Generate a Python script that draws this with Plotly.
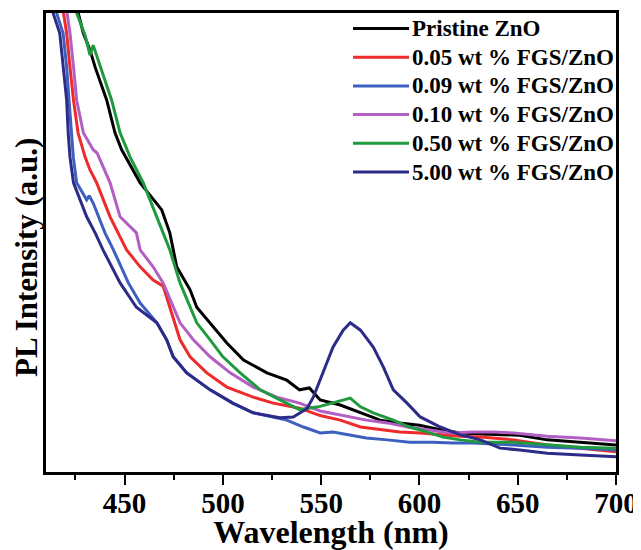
import plotly.graph_objects as go

FONT = "Liberation Serif"

series_names = ["Pristine ZnO", "0.05 wt % FGS/ZnO", "0.09 wt % FGS/ZnO",
                "0.10 wt % FGS/ZnO", "0.50 wt % FGS/ZnO", "5.00 wt % FGS/ZnO"]
series_colors = ["#000000", "#ee2a2a", "#3d5fbf", "#b35ec2", "#1f9a3e", "#2c2c88"]

# Pristine ZnO
pristine_x = [424, 426.3, 429, 432.4, 435, 440.9, 445.1, 448.5, 457.9, 468.9, 473, 476.5, 483.3,
              486.7, 493.5, 502, 510.5, 522.4, 532.5, 539, 544, 549.5, 559.7, 569.9, 580, 590,
              600, 610.6, 620.8, 631, 651, 665, 682, 700]
pristine_y = [104, 100, 95.6, 91.9, 88.2, 81.0, 73.9, 70.2, 63.0, 57.1, 52.1, 44.7, 39.7,
              35.9, 32.5, 28.1, 24.4, 21.6, 20.0, 17.9, 18.3, 15.7, 14.6, 12.9, 11.3, 10.7,
              10.2, 9.2, 8.5, 8.3, 8.0, 7.0, 6.5, 5.9]

# 0.05 wt %
w005_x = [416, 418.7, 420.5, 422.2, 424, 426.3, 429.9, 432.4, 435.8, 442.6, 451, 457.9, 464.5,
          469.6, 473, 475.7, 478.2, 483.3, 491.8, 502, 515.4, 525.6, 539, 549.5, 559.7, 570,
          580, 590, 600.4, 610.6, 620.8, 631, 648, 665, 682, 700]
w005_y = [108, 100, 95.6, 88.2, 81.0, 73.9, 68.6, 65.8, 63.0, 55.6, 48.4, 44.7, 41.8,
          40.5, 35.9, 32.5, 28.8, 25.1, 21.6, 18.5, 16.3, 15.0, 13.9, 12.3, 11.3, 9.8,
          9.2, 8.7, 8.5, 8.1, 7.8, 7.6, 7.0, 5.9, 5.2, 4.4]

# 0.09 wt %
w009_x = [413, 415.4, 418.7, 420.5, 421.7, 423, 423.9, 425.6, 430.7, 432, 434, 440, 444.3,
          451.9, 457.9, 466.4, 471.4, 474.7, 481.6, 493.5, 505, 515.4, 532.5, 541, 549.5,
          556, 563, 573, 583.6, 595, 607, 617, 627, 648, 665, 682, 700]
w009_y = [108, 100, 95.6, 88.2, 81.0, 73.9, 68.6, 63.0, 59.3, 60.2, 58.6, 52.1, 48.4,
          41.2, 36.8, 32.5, 28.8, 25.1, 21.6, 17.9, 15.0, 12.9, 11.3, 9.8, 8.5,
          8.7, 8.1, 7.4, 7.0, 6.5, 6.5, 6.3, 6.3, 5.9, 5.4, 5.2, 4.8]

# 0.10 wt %
w010_x = [418, 420.5, 422.2, 424, 425.6, 429, 434, 436, 442.6, 447.7, 456, 457.9, 464.5,
          469.6, 474.7, 478.2, 485, 493.5, 503.7, 515.4, 527.4, 539, 549.5, 561, 573,
          583.6, 594, 604, 615.7, 627.4, 637.6, 648, 665, 682, 700]
w010_y = [108, 100, 95.6, 88.2, 81.0, 73.9, 70.2, 69.5, 63.0, 55.6, 52.1, 48.4, 44.7,
          41.2, 35.9, 32.5, 28.8, 25.1, 21.6, 18.5, 16.3, 15.0, 13.3, 12.4, 11.3,
          10.7, 9.8, 9.2, 8.5, 8.7, 8.7, 8.5, 7.8, 7.4, 6.8]

# 0.50 wt %
w050_x = [424, 425.6, 430, 432.4, 434, 443.4, 447.7, 452.8, 459.5, 466.4, 473, 478.2, 483.3,
          486.7, 493.5, 500, 508.8, 519, 529, 539, 549.5, 556, 564.8, 570, 576.5, 586.7,
          595, 604, 612, 620.8, 631, 647.8, 665, 682, 700]
w050_y = [104, 100, 95.0, 90.8, 93.0, 81.0, 73.9, 68.6, 63.0, 55.6, 48.4, 41.2, 35.9,
          32.5, 28.8, 25.1, 21.6, 17.9, 15.7, 13.6, 14.3, 15.0, 16.1, 14.2, 12.9, 11.3,
          9.8, 8.7, 7.6, 7.0, 6.5, 6.5, 5.9, 5.4, 5.2]

# 5.00 wt %
w500_x = [411, 413.6, 417, 418.7, 420.5, 421.3, 422.2, 424, 430.7, 435, 439, 447.7, 453.6,
          456, 466.4, 471.4, 474.7, 481.6, 493.5, 505, 515.4, 529, 535.8, 542.7, 546, 551,
          556, 561.2, 564.8, 570, 576.5, 581.6, 586.7, 593.7, 600.4, 610.6, 620.8, 631,
          641, 651, 665, 682, 700]
w500_y = [108, 100, 95.6, 88.2, 81.0, 73.9, 68.6, 63.0, 55.6, 52.1, 48.4, 41.2, 37.5,
          35.9, 32.5, 28.8, 25.1, 21.6, 17.9, 15.0, 12.9, 11.8, 12.0, 13.8, 16.3, 21.6,
          27.2, 30.9, 32.5, 30.9, 27.2, 22.9, 17.9, 15.0, 12.0, 9.8, 8.1, 7.0,
          5.2, 4.8, 4.1, 3.7, 3.3]

xs = [pristine_x, w005_x, w009_x, w010_x, w050_x, w500_x]
ys = [pristine_y, w005_y, w009_y, w010_y, w050_y, w500_y]

# page has an 8 px body margin, so the figure is laid out 8 px smaller
OFF = 8
FIG_W, FIG_H = 641 - OFF, 550 - OFF
# plot-area geometry in page pixels
L, R, T, B = 46, 616, 13, 472
W_, H_ = R - L, B - T

def px_x(p):
    return (p - L) / W_

def px_y(p):
    return (B - p) / H_

fig = go.Figure()
for name, color, x, y in zip(series_names, series_colors, xs, ys):
    fig.add_trace(go.Scatter(x=x, y=y, mode="lines", name=name, showlegend=False,
                             line=dict(color=color, width=3)))

# legend drawn as shapes + annotations
for i, (name, color) in enumerate(zip(series_names, series_colors)):
    yc = 28.5 + 28.7 * i
    fig.add_shape(type="line", xref="paper", yref="paper",
                  x0=px_x(353), x1=px_x(409), y0=px_y(yc), y1=px_y(yc),
                  line=dict(color=color, width=3))
    fig.add_annotation(xref="paper", yref="paper", x=px_x(410), y=px_y(yc),
                       xanchor="left", yanchor="middle", showarrow=False,
                       text=name,
                       font=dict(family=FONT, size=23, color="black", weight="bold"))

# y-axis title (placed slightly below the plot centre as in the original)
fig.add_annotation(xref="paper", yref="paper", x=px_x(27), y=px_y(258),
                   xanchor="center", yanchor="middle", showarrow=False, textangle=-90,
                   text="PL Intensity (a.u.)",
                   font=dict(family=FONT, size=31, color="black", weight="bold"))

fig.update_layout(
    width=FIG_W, height=FIG_H,
    margin=dict(l=L - OFF, r=FIG_W - (R - OFF), t=T - OFF, b=FIG_H - (B - OFF)),
    paper_bgcolor="white", plot_bgcolor="white",
    font=dict(family=FONT, color="black"),
    showlegend=False,
    xaxis=dict(range=[410, 700], showgrid=False, zeroline=False, automargin=False,
               showline=True, linecolor="black", linewidth=2.5, mirror=True,
               ticks="outside", ticklen=10, tickwidth=2, tickcolor="black",
               tickvals=[450, 500, 550, 600, 650, 700], ticklabelstandoff=-7,
               tickfont=dict(family=FONT, size=29, color="black", weight="bold"),
               minor=dict(ticks="outside", ticklen=5, tickwidth=2, tickcolor="black",
                          tickvals=[425, 475, 525, 575, 625, 675]),
               title=dict(text="Wavelength (nm)", standoff=19,
                          font=dict(family=FONT, size=32, color="black", weight="bold"))),
    yaxis=dict(range=[0, 100], showgrid=False, zeroline=False, automargin=False,
               showline=True, linecolor="black", linewidth=2.5, mirror=True,
               ticks="", showticklabels=False),
)

fig.write_html("out.html")
